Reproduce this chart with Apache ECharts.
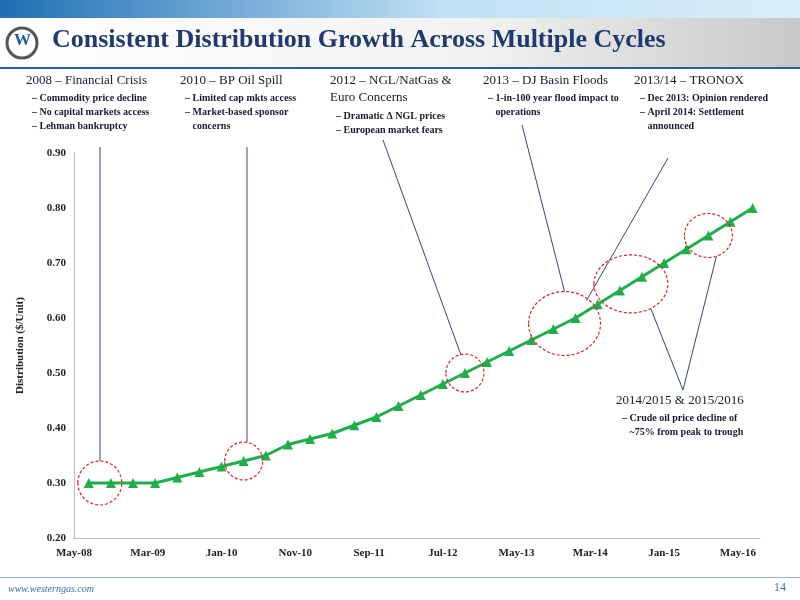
<!DOCTYPE html>
<html>
<head>
<meta charset="utf-8">
<script src="https://cdn.jsdelivr.net/npm/echarts@6/dist/echarts.min.js"></script>
<style>
body{margin:0;background:#fff;}
#main{width:800px;height:600px;}
</style>
</head>
<body>
<div id="main"></div>
<script>
// months since May-08 for each quarterly distribution
var monthOffsets = [2,5,8,11,14,17,20,23,26,29,32,35,38,41,44,47,50,53,56,59,62,65,68,71,74,77,80,83,86,89,92];
var distribution = [0.30,0.30,0.30,0.30,0.31,0.32,0.33,0.34,0.35,0.37,0.38,0.39,0.405,0.42,0.44,0.46,0.48,0.50,0.52,0.54,0.56,0.58,0.60,0.625,0.65,0.675,0.70,0.725,0.75,0.775,0.80];
var tickLabels = ["May-08","Mar-09","Jan-10","Nov-10","Sep-11","Jul-12","May-13","Mar-14","Jan-15","May-16"];

var serif = "'Liberation Serif', 'DejaVu Serif', serif";
var navy = "#1f3a6e";

var chart = echarts.init(document.getElementById('main'));

var seriesData = [];
for (var i = 0; i < monthOffsets.length; i++) {
	seriesData.push([monthOffsets[i], distribution[i]]);
}

function txt(x, y, s, size, bold) {
	return {type: 'text', left: x, top: y, style: {text: s, font: (bold ? 'bold ' : '') + size + 'px ' + serif, fill: '#1a1a2e', lineHeight: size + 4}};
}

var option = {
	animation: false,
	grid: {left: 74, right: 40, top: 153, bottom: 62},
	xAxis: {
		type: 'value', min: 0, max: 93, interval: 10,
		axisLine: {lineStyle: {color: '#bbb'}},
		axisTick: {show: false},
		splitLine: {show: false},
		axisLabel: {
			fontFamily: serif, fontWeight: 'bold', fontSize: 11, color: '#222', margin: 10,
			formatter: function (v) { return tickLabels[Math.round(v / 10)] || ''; }
		}
	},
	yAxis: {
		type: 'value', min: 0.2, max: 0.9, interval: 0.1,
		name: 'Distribution ($/Unit)', nameLocation: 'middle', nameGap: 48,
		nameTextStyle: {fontFamily: serif, fontWeight: 'bold', fontSize: 11, color: '#222'},
		axisLine: {show: true, lineStyle: {color: '#bbb'}},
		axisTick: {show: false},
		splitLine: {show: false},
		axisLabel: {fontFamily: serif, fontWeight: 'bold', fontSize: 11, color: '#222',
			formatter: function (v) { return v.toFixed(2); }}
	},
	series: [{
		type: 'line', data: seriesData,
		symbol: 'triangle', symbolSize: 10,
		lineStyle: {color: '#1fae4b', width: 3},
		itemStyle: {color: '#1fae4b'}
	}]
};
chart.setOption(option);

function px(m, v) { return chart.convertToPixel({gridIndex: 0}, [m, v]); }
function circ(c, rx, ry) {
	return {type: 'ellipse', shape: {cx: c[0], cy: c[1], rx: rx, ry: ry},
		style: {fill: 'none', stroke: '#e02020', lineWidth: 1.2, lineDash: [3, 2]}, z: 10};
}
function line(x1, y1, x2, y2) {
	return {type: 'line', shape: {x1: x1, y1: y1, x2: x2, y2: y2}, style: {stroke: '#2b4a7a', lineWidth: 1}, z: 9};
}

var c1 = px(3.5, 0.30), c2 = px(23, 0.34), c3 = px(53, 0.50),
	c4 = px(66.5, 0.59), c5 = px(75.5, 0.662), c6 = px(86, 0.75);

var graphics = [
	{type: 'rect', shape: {x: 0, y: 0, width: 800, height: 18},
		style: {fill: new echarts.graphic.LinearGradient(0, 0, 1, 0, [{offset: 0, color: '#1e6fb5'}, {offset: 0.55, color: '#bfe0f5'}, {offset: 1, color: '#d9eefb'}])}},
	{type: 'rect', shape: {x: 0, y: 18, width: 800, height: 50},
		style: {fill: new echarts.graphic.LinearGradient(0, 0, 1, 0, [{offset: 0, color: '#ffffff'}, {offset: 0.6, color: '#f2f2f2'}, {offset: 1, color: '#c8c8c8'}])}},
	{type: 'rect', shape: {x: 0, y: 67, width: 800, height: 2}, style: {fill: '#2e5d9a'}},
	{type: 'circle', shape: {cx: 22, cy: 43, r: 15}, style: {fill: '#fff', stroke: '#555', lineWidth: 3}},
	{type: 'text', left: 14, top: 32, style: {text: 'W', font: 'bold 17px ' + serif, fill: '#1e5aa0'}},
	{type: 'text', left: 52, top: 27, style: {text: 'Consistent Distribution Growth Across Multiple Cycles', font: 'bold 26px ' + serif, fill: navy}},
	txt(26, 72, '2008 – Financial Crisis', 13),
	txt(32, 91, '– Commodity price decline\n– No capital markets access\n– Lehman bankruptcy', 10, true),
	txt(180, 72, '2010 – BP Oil Spill', 13),
	txt(185, 91, '– Limited cap mkts access\n– Market-based sponsor\n   concerns', 10, true),
	txt(330, 72, '2012 – NGL/NatGas &\nEuro Concerns', 13),
	txt(336, 109, '– Dramatic Δ NGL prices\n– European market fears', 10, true),
	txt(483, 72, '2013 – DJ Basin Floods', 13),
	txt(488, 91, '– 1-in-100 year flood impact to\n   operations', 10, true),
	txt(634, 72, '2013/14 – TRONOX', 13),
	txt(640, 91, '– Dec 2013: Opinion rendered\n– April 2014: Settlement\n   announced', 10, true),
	txt(616, 392, '2014/2015 & 2015/2016', 13),
	txt(622, 411, '– Crude oil price decline of\n   ~75% from peak to trough', 10, true),
	circ(c1, 22, 22), circ(c2, 19, 19), circ(c3, 19, 19),
	circ(c4, 36, 32), circ(c5, 37, 29), circ(c6, 24, 22),
	line(100, 147, 100, c1[1] - 22),
	line(247, 147, 247, c2[1] - 19),
	line(383, 140, c3[0] - 4, c3[1] - 18),
	line(522, 125, c4[0], c4[1] - 32),
	line(668, 158, c4[0] + 22, c4[1] - 23),
	line(683, 390, c5[0] + 20, c5[1] + 25),
	line(683, 390, c6[0] + 8, c6[1] + 21),
	{type: 'rect', shape: {x: 0, y: 577, width: 800, height: 1}, style: {fill: '#9bb5d6'}},
	{type: 'text', left: 8, top: 584, style: {text: 'www.westerngas.com', font: 'italic 10px ' + serif, fill: '#3a6db0'}},
	{type: 'text', right: 14, top: 582, style: {text: '14', font: '12px ' + serif, fill: '#3a6db0'}}
];
chart.setOption({graphic: graphics});
</script>
</body>
</html>
